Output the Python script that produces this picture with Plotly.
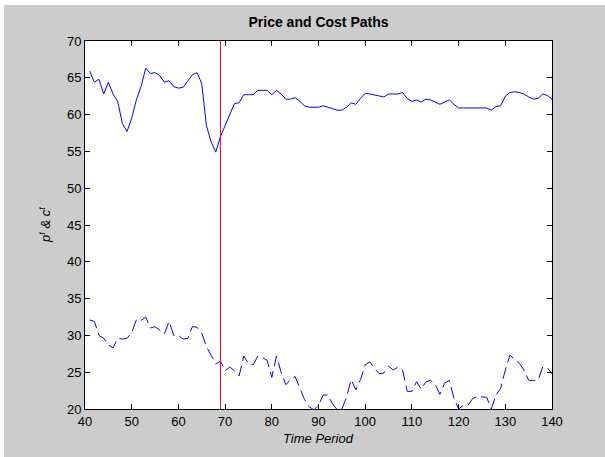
import plotly.graph_objects as go

time = list(range(41, 141))

price = [65.9, 64.4, 64.8, 62.8, 64.4, 62.8, 61.8, 58.8, 57.7, 59.5,
         62.0, 63.8, 66.3, 65.6, 65.7, 65.3, 64.4, 64.6, 63.8, 63.6,
         63.7, 64.5, 65.4, 65.7, 64.2, 58.5, 56.3, 54.9, 57.0, 58.5,
         60.0, 61.5, 61.6, 62.7, 62.7, 62.7, 63.3, 63.3, 63.3, 62.7,
         63.3, 62.8, 62.1, 62.1, 62.3, 61.8, 61.2, 61.0, 61.0, 61.0,
         61.2, 61.0, 60.7, 60.6, 60.6, 61.0, 61.6, 61.4, 62.2, 62.9,
         62.8, 62.7, 62.5, 62.4, 62.8, 62.8, 62.8, 63.0, 62.2, 61.8,
         62.0, 61.7, 62.1, 62.0, 61.7, 61.4, 61.7, 62.0, 61.4, 60.9,
         60.9, 60.9, 60.9, 61.0, 61.0, 60.9, 60.6, 61.1, 61.2, 62.5,
         63.0, 63.1, 63.0, 62.8, 62.4, 62.1, 62.2, 62.8, 62.6, 62.1]

cost = [32.1, 31.9, 30.0, 29.6, 28.7, 28.3, 29.6, 29.5, 29.6, 30.4,
        32.1, 32.0, 32.5, 31.0, 31.2, 30.7, 30.2, 31.9, 30.0, 30.0,
        29.5, 29.6, 31.2, 31.1, 30.3, 28.5, 27.2, 26.1, 26.5, 25.2,
        25.7, 25.2, 24.5, 27.2, 26.2, 26.0, 27.2, 27.0, 26.6, 24.3,
        27.2, 25.0, 23.3, 24.0, 24.4, 22.8, 21.3, 20.3, 19.9, 20.5,
        21.9, 21.9, 20.7, 19.9, 20.0, 21.6, 24.0, 22.6, 24.0, 26.0,
        26.4, 25.5, 24.8, 24.9, 25.8, 25.3, 25.7, 25.3, 22.4, 22.4,
        23.7, 22.7, 23.7, 23.9, 23.3, 22.0, 23.5, 23.9, 21.5, 20.0,
        20.5, 20.5, 21.4, 21.7, 21.6, 21.6, 20.0, 21.9, 22.8, 25.3,
        27.3, 26.8, 26.2, 25.3, 23.9, 23.9, 23.9, 25.7, 25.6, 24.8]

break_period = 69
x_ticks = list(range(40, 141, 10))
y_ticks = list(range(20, 71, 5))

# page offset (thin white border at top/left in the reference)
OFF_X, OFF_Y = 4, 5
W, H = 605 - OFF_X, 457 - OFF_Y
ml, mr, mt, mb = 85 - OFF_X, 53, 41 - OFF_Y, 48

fig = go.Figure()
fig.add_trace(go.Scatter(x=time, y=price, mode="lines",
                         line=dict(color="#0000ff", width=1), showlegend=False))
fig.add_trace(go.Scatter(x=time, y=cost, mode="lines",
                         line=dict(color="#0000ff", width=1, dash="12px,5px"),
                         showlegend=False))
fig.add_trace(go.Scatter(x=[break_period, break_period], y=[20, 70], mode="lines",
                         line=dict(color="#ff0000", width=1), showlegend=False))

axis_common = dict(showgrid=False, zeroline=False, showline=True, linecolor="black",
                   linewidth=1, mirror="ticks", ticks="inside", ticklen=5,
                   tickcolor="black", tickfont=dict(family="Liberation Sans", size=13,
                                                    color="black"))
fig.update_xaxes(range=[40, 140], tickvals=x_ticks, **axis_common)
fig.update_yaxes(range=[20, 70], tickvals=y_ticks, **axis_common)

plot_h = H - mt - mb
fig.update_layout(
    width=W, height=H,
    margin=dict(l=ml, r=mr, t=mt, b=mb, pad=0),
    paper_bgcolor="#cccccc", plot_bgcolor="white",
    font=dict(family="Liberation Sans", color="black"),
    title=dict(text="<b>Price and Cost Paths</b>", x=(ml + (W - ml - mr) / 2) / W,
               xanchor="center", y=1 - (22 - OFF_Y) / H, yanchor="middle",
               font=dict(family="Liberation Sans", size=14, color="black")),
    annotations=[
        dict(text="<i>Time Period</i>", xref="paper", yref="paper",
             x=0.5, y=-(438 - 409) / plot_h, xanchor="center",
             yanchor="middle", showarrow=False,
             font=dict(family="Liberation Sans", size=13, color="black")),
        dict(text="<i>p<sup>t</sup> & c<sup>t</sup></i>", xref="paper", yref="paper",
             x=-(85 - 45) / (W - ml - mr), y=1 - (225 - 41) / plot_h,
             xanchor="center", yanchor="middle", textangle=-90, showarrow=False,
             font=dict(family="Liberation Sans", size=13, color="black")),
    ],
)

post = ("document.body.style.margin='0';"
        "document.body.style.padding='%dpx 0 0 %dpx';"
        "document.body.style.background='white';" % (OFF_Y, OFF_X))
fig.write_html("out.html", post_script=post)
